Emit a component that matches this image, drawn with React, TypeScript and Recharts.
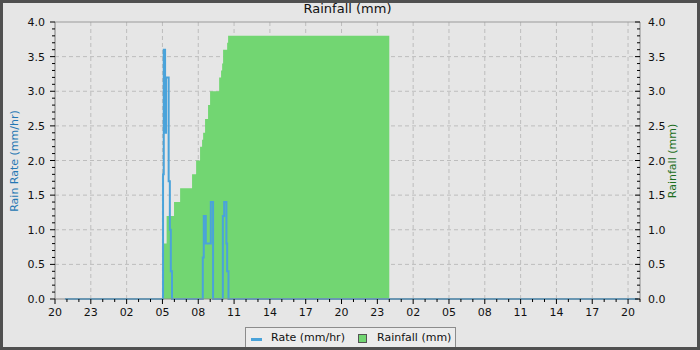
import {
  ComposedChart,
  Area,
  Line,
  XAxis,
  YAxis,
  CartesianGrid,
  ReferenceLine
} from "recharts";

// hours counted from 20:00 on the first day
const times = [
  0.83, 9.05, 9.11, 9.22, 9.3, 9.35, 9.52, 9.62, 9.7, 9.8, 9.97, 10.48, 11.48,
  11.82, 12.15, 12.32, 12.38, 12.41, 12.46, 12.57, 12.63, 12.82, 12.99, 13.05,
  13.24, 13.75, 13.91, 14.0, 14.06, 14.08, 14.17, 14.36, 14.42, 14.5, 14.53,
  28.0, 48.83
];

// rain rate (mm/hr)
const rateValues = [
  0, 1.8, 3.6, 2.4, 3.2, 3.2, 1.7, 1.0, 0.4, 0, 0, 0, 0,
  0, 0, 0, 0.6, 0.6, 1.2, 1.2, 0.8, 0.8, 0.8, 1.4,
  0, 0, 0, 0, 1.2, 1.2, 1.4, 0.8, 0.4, 0.4, 0,
  0, 0
];

// cumulative rainfall (mm), resets at midnight
const rainValues = [
  0, 0.4, 0.8, 0.8, 0.8, 1.2, 1.2, 1.2, 1.2, 1.2, 1.4, 1.6, 1.8,
  2.0, 2.2, 2.3, 2.3, 2.4, 2.4, 2.6, 2.6, 2.8, 3.0, 3.0,
  3.0, 3.2, 3.3, 3.4, 3.4, 3.6, 3.6, 3.6, 3.7, 3.8, 3.8,
  3.8, null
];

const hourLabels = [
  "20", "23", "02", "05", "08", "11", "14", "17",
  "20", "23", "02", "05", "08", "11", "14", "17", "20"
];

const xTicks = [
  0, 1, 2, 3, 4, 5, 6, 7, 8, 9, 10, 11, 12, 13, 14, 15, 16, 17, 18, 19, 20,
  21, 22, 23, 24, 25, 26, 27, 28, 29, 30, 31, 32, 33, 34, 35, 36, 37, 38, 39,
  40, 41, 42, 43, 44, 45, 46, 47, 48, 49
];
const gridX = [3, 6, 9, 12, 15, 18, 21, 24, 27, 30, 33, 36, 39, 42, 45, 48];

const yTicks = [
  0, 0.1, 0.2, 0.3, 0.4, 0.5, 0.6, 0.7, 0.8, 0.9, 1, 1.1, 1.2, 1.3, 1.4, 1.5,
  1.6, 1.7, 1.8, 1.9, 2, 2.1, 2.2, 2.3, 2.4, 2.5, 2.6, 2.7, 2.8, 2.9, 3, 3.1,
  3.2, 3.3, 3.4, 3.5, 3.6, 3.7, 3.8, 3.9, 4
];
const gridY = [0.5, 1, 1.5, 2, 2.5, 3, 3.5];

const data = times.map((t, i) => ({ t, rate: rateValues[i], rain: rainValues[i] }));

const font = '"DejaVu Sans", sans-serif';

function isMajorY(v: number) {
  return Math.round(v * 10) % 5 === 0;
}

function LeftTick(props: any) {
  const { x, y, payload } = props;
  const major = isMajorY(payload.value);
  return (
    <g>
      <line x1={x - (major ? 5 : 3)} x2={x} y1={y} y2={y} stroke="#000" />
      {major && (
        <text x={x - 10} y={y + 4} textAnchor="end" fontSize={11} fontFamily={font} fill="#111">
          {payload.value.toFixed(1)}
        </text>
      )}
    </g>
  );
}

function RightTick(props: any) {
  const { x, y, payload } = props;
  const major = isMajorY(payload.value);
  return (
    <g>
      <line x1={x - (major ? 5 : 3)} x2={x} y1={y} y2={y} stroke="#000" />
      {major && (
        <text x={x + 8} y={y + 4} textAnchor="start" fontSize={11} fontFamily={font} fill="#111">
          {payload.value.toFixed(1)}
        </text>
      )}
    </g>
  );
}

function BottomTick(props: any) {
  const { x, y, payload } = props;
  const major = payload.value % 3 === 0;
  return (
    <g>
      <line x1={x} x2={x} y1={y} y2={y + (major ? 5 : 3)} stroke="#000" />
      {major && (
        <text x={x} y={y + 17} textAnchor="middle" fontSize={11} fontFamily={font} fill="#111">
          {hourLabels[payload.value / 3]}
        </text>
      )}
    </g>
  );
}

export default function App() {
  return (
    <div
      style={{
        position: "relative",
        width: 700,
        height: 350,
        background: "#e6e6e6",
        fontFamily: font,
        overflow: "hidden"
      }}
    >
      <style>{`body{margin:0}`}</style>

      <div style={{ position: "absolute", left: 0, top: 0 }}>
        <ComposedChart width={700} height={350} data={data} margin={{ top: 22, right: 0, bottom: 0, left: 0 }}>
          <CartesianGrid
            yAxisId="rate"
            stroke="#bdbdbd"
            strokeDasharray="4 3"
            horizontalValues={gridY}
            verticalValues={gridX}
          />
          <XAxis
            dataKey="t"
            type="number"
            domain={[0, 49]}
            ticks={xTicks}
            interval={0}
            height={51}
            tickSize={0}
            tickMargin={0}
            tickLine={false}
            axisLine={{ stroke: "#8a8a8a" }}
            tick={<BottomTick />}
          />
          <YAxis
            yAxisId="rate"
            orientation="left"
            domain={[0, 4]}
            ticks={yTicks}
            interval={0}
            width={55}
            tickSize={0}
            tickMargin={0}
            tickLine={false}
            axisLine={{ stroke: "#7a7a7a" }}
            tick={<LeftTick />}
          />
          <YAxis
            yAxisId="rain"
            orientation="right"
            domain={[0, 4]}
            ticks={yTicks}
            interval={0}
            width={60}
            tickSize={0}
            tickMargin={0}
            tickLine={false}
            axisLine={{ stroke: "#8a8a8a" }}
            tick={<RightTick />}
          />
          <ReferenceLine yAxisId="rate" y={4} stroke="#9a9a9a" />
          <Area
            yAxisId="rain"
            dataKey="rain"
            type="stepAfter"
            fill="#72d672"
            fillOpacity={1}
            stroke="none"
            isAnimationActive={false}
          />
          <Line
            yAxisId="rate"
            dataKey="rate"
            type="stepAfter"
            stroke="#4aa3da"
            strokeWidth={2}
            dot={false}
            isAnimationActive={false}
          />
        </ComposedChart>
      </div>

      <div
        style={{
          position: "absolute",
          left: 55,
          width: 585,
          top: 1,
          textAlign: "center",
          fontSize: 13,
          lineHeight: "16px",
          color: "#111"
        }}
      >
        Rainfall (mm)
      </div>

      <div
        style={{
          position: "absolute",
          left: 14,
          top: 161,
          transform: "translate(-50%, -50%) rotate(-90deg)",
          whiteSpace: "nowrap",
          fontSize: 11,
          color: "#2477b3"
        }}
      >
        Rain Rate (mm/hr)
      </div>

      <div
        style={{
          position: "absolute",
          left: 672,
          top: 161,
          transform: "translate(-50%, -50%) rotate(-90deg)",
          whiteSpace: "nowrap",
          fontSize: 11,
          color: "#1d6e1d"
        }}
      >
        Rainfall (mm)
      </div>

      <div
        style={{
          position: "absolute",
          left: 245,
          top: 327,
          width: 209,
          height: 24,
          background: "#ececec",
          border: "1px solid #8c8c8c",
          fontSize: 11,
          color: "#111"
        }}
      >
        <div style={{ position: "absolute", left: 5, top: 10, width: 11, height: 3, background: "#4aa3da" }} />
        <div style={{ position: "absolute", left: 25, top: 3, lineHeight: "13px", whiteSpace: "nowrap" }}>
          Rate (mm/hr)
        </div>
        <div
          style={{
            position: "absolute",
            left: 112,
            top: 6,
            width: 7,
            height: 7,
            background: "#72d672",
            border: "1px solid #555"
          }}
        />
        <div style={{ position: "absolute", left: 131, top: 3, lineHeight: "13px", whiteSpace: "nowrap" }}>
          Rainfall (mm)
        </div>
      </div>

      <div
        style={{
          position: "absolute",
          left: 0,
          top: 0,
          width: 700,
          height: 350,
          boxSizing: "border-box",
          border: "3px solid #505050",
          pointerEvents: "none"
        }}
      />
    </div>
  );
}
